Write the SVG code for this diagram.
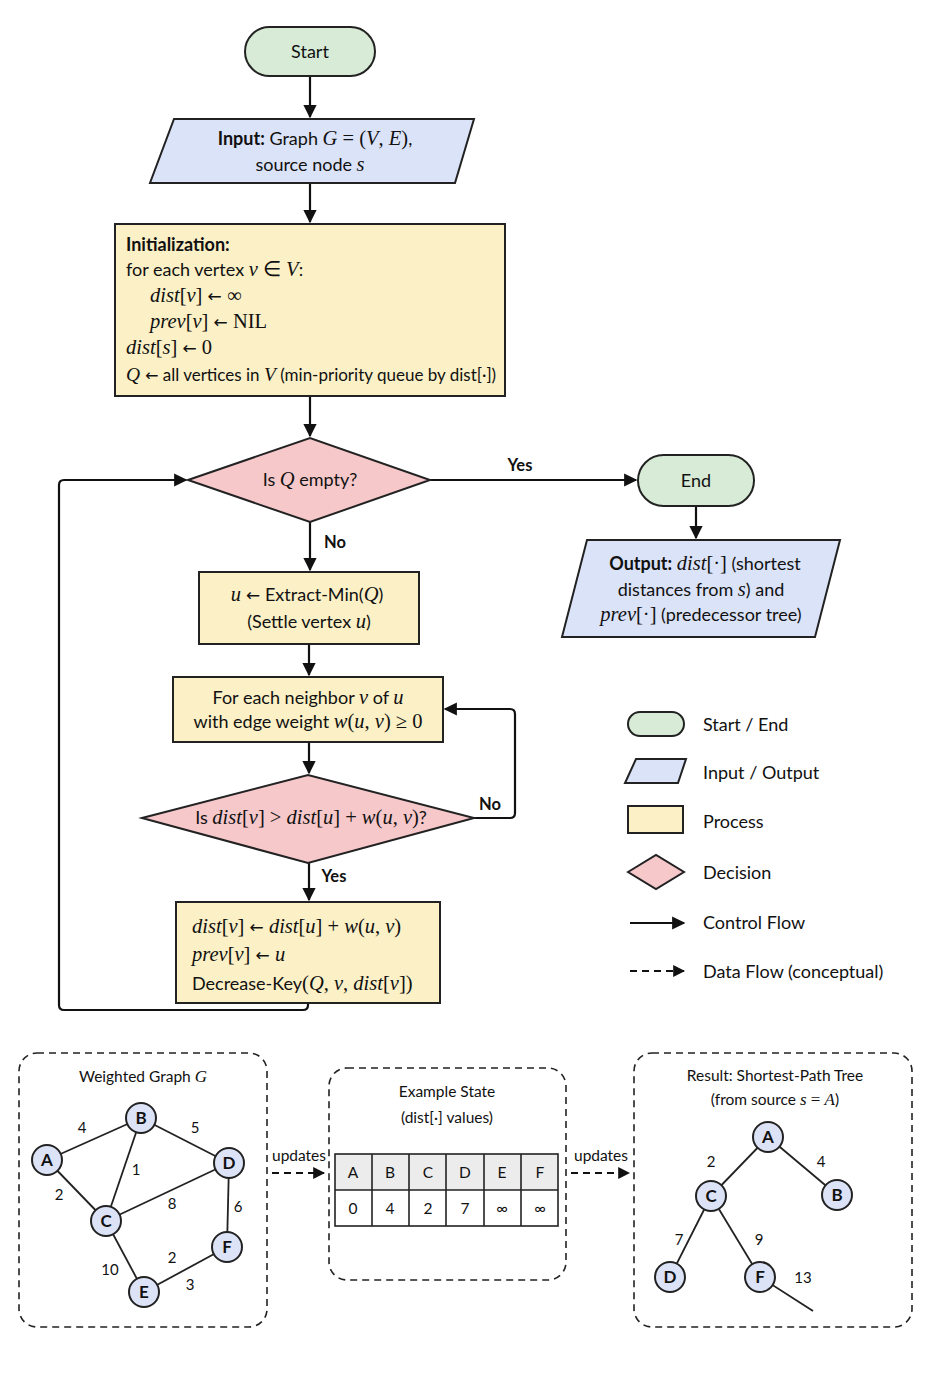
<svg xmlns="http://www.w3.org/2000/svg" width="933" height="1400" viewBox="0 0 933 1400">
<defs>
<style>
.t{font-family:Lato,"Open Sans","Liberation Sans",sans-serif;font-size:18px;fill:#111}
.s{font-family:Lato,"Open Sans","Liberation Sans",sans-serif;font-size:15.5px;fill:#111}
.b{font-weight:bold}
.m{font-family:"Liberation Serif",serif;font-style:italic;font-size:20.5px}
.r{font-family:"Liberation Serif",serif;font-size:20.5px}
.a{font-family:"DejaVu Sans",sans-serif;font-size:17px}
.sm{font-size:17px}
.sm .m{font-size:19.5px}
.sm .r{font-size:19.5px}
.sm .a{font-size:16px}
.lbl{font-family:Lato,"Open Sans","Liberation Sans",sans-serif;font-size:16.5px;font-weight:bold;fill:#111}
.term{fill:#d7ebd6;stroke:#222;stroke-width:2}
.io{fill:#dbe3f8;stroke:#222;stroke-width:2}
.proc{fill:#fbf0c6;stroke:#222;stroke-width:2}
.dec{fill:#f6c8ca;stroke:#222;stroke-width:2}
.edge{fill:none;stroke:#111;stroke-width:2.2}
.dash{fill:none;stroke:#111;stroke-width:2;stroke-dasharray:7 5}
.panel{fill:none;stroke:#222;stroke-width:1.6;stroke-dasharray:7 5}
.gl{stroke:#222;stroke-width:1.8}
.gn{fill:#dde3f6;stroke:#222;stroke-width:2}
.gt{font-family:Lato,"Open Sans","Liberation Sans",sans-serif;font-size:17px;font-weight:bold;fill:#111}
.w{font-family:Lato,"Open Sans","Liberation Sans",sans-serif;font-size:15px;fill:#111}
.s .m,.s .r{font-size:17px}
</style>
<marker id="ah" viewBox="0 0 10 10" refX="9" refY="5" markerWidth="6" markerHeight="6" orient="auto"><path d="M0,0 L10,5 L0,10 z" fill="#111"/></marker>
</defs>
<rect width="933" height="1400" fill="#fff"/>

<g id="connectors">
<line class="edge" x1="310" y1="76" x2="310" y2="117" marker-end="url(#ah)"/>
<line class="edge" x1="310" y1="183" x2="310" y2="222" marker-end="url(#ah)"/>
<line class="edge" x1="310" y1="396" x2="310" y2="436" marker-end="url(#ah)"/>
<line class="edge" x1="430" y1="480" x2="636" y2="480" marker-end="url(#ah)"/>
<line class="edge" x1="696" y1="506" x2="696" y2="538" marker-end="url(#ah)"/>
<line class="edge" x1="310" y1="522" x2="310" y2="570" marker-end="url(#ah)"/>
<line class="edge" x1="309" y1="644" x2="309" y2="675" marker-end="url(#ah)"/>
<line class="edge" x1="309" y1="742" x2="309" y2="773" marker-end="url(#ah)"/>
<path class="edge" d="M474,818 H510 Q515,818 515,813 V714 Q515,709 510,709 H445" marker-end="url(#ah)"/>
<line class="edge" x1="309" y1="863" x2="309" y2="900" marker-end="url(#ah)"/>
<path class="edge" d="M308,1003 V1005 Q308,1010 303,1010 H64 Q59,1010 59,1005 V485 Q59,480 64,480 H186" marker-end="url(#ah)"/>
<text class="lbl" x="520" y="471" text-anchor="middle">Yes</text>
<text class="lbl" x="335" y="548" text-anchor="middle">No</text>
<text class="lbl" x="490" y="810" text-anchor="middle">No</text>
<text class="lbl" x="334" y="882" text-anchor="middle">Yes</text>
<line class="dash" x1="272" y1="1173" x2="324" y2="1173" marker-end="url(#ah)"/>
<text class="s" x="299" y="1161" text-anchor="middle">updates</text>
<line class="dash" x1="571" y1="1173" x2="629" y2="1173" marker-end="url(#ah)"/>
<text class="s" x="601" y="1161" text-anchor="middle">updates</text>
</g>

<g id="start">
<rect class="term" x="245" y="27" width="130" height="49" rx="24.5"/>
<text class="t" x="310" y="58" text-anchor="middle">Start</text>
</g>

<g id="input">
<polygon class="io" points="174,119 474,119 455,183 150,183"/>
<text class="t" x="315" y="145" text-anchor="middle"><tspan class="b">Input:</tspan> Graph <tspan class="m">G</tspan><tspan class="r"> = (</tspan><tspan class="m">V</tspan><tspan class="r">, </tspan><tspan class="m">E</tspan><tspan class="r">)</tspan>,</text>
<text class="t" x="310" y="171" text-anchor="middle">source node <tspan class="m">s</tspan></text>
</g>

<g id="init">
<rect class="proc" x="115" y="224" width="390" height="172"/>
<text class="t b" x="126" y="251">Initialization:</text>
<text class="t" x="126" y="276">for each vertex <tspan class="m">v</tspan><tspan class="r"> ∈ </tspan><tspan class="m">V</tspan>:</text>
<text class="t" x="150" y="302"><tspan class="m">dist</tspan><tspan class="r">[</tspan><tspan class="m">v</tspan><tspan class="r">] </tspan><tspan class="a">←</tspan><tspan class="r"> ∞</tspan></text>
<text class="t" x="150" y="328"><tspan class="m">prev</tspan><tspan class="r">[</tspan><tspan class="m">v</tspan><tspan class="r">] </tspan><tspan class="a">←</tspan><tspan class="r"> NIL</tspan></text>
<text class="t" x="126" y="354"><tspan class="m">dist</tspan><tspan class="r">[</tspan><tspan class="m">s</tspan><tspan class="r">] </tspan><tspan class="a">←</tspan><tspan class="r"> 0</tspan></text>
<text class="t sm" x="126" y="381"><tspan class="m">Q</tspan><tspan class="r"> </tspan><tspan class="a">←</tspan> all vertices in <tspan class="m">V</tspan> (min-priority queue by dist[·])</text>
</g>

<g id="dec-empty">
<polygon class="dec" points="188,480 310,438 430,480 310,522"/>
<text class="t" x="310" y="486" text-anchor="middle">Is <tspan class="m">Q</tspan> empty?</text>
</g>

<g id="end">
<rect class="term" x="638" y="455" width="116" height="51" rx="25.5"/>
<text class="t" x="696" y="487" text-anchor="middle">End</text>
</g>

<g id="output">
<polygon class="io" points="587,540 840,540 815,637 562,637"/>
<text class="t" x="705" y="570" text-anchor="middle"><tspan class="b">Output:</tspan> <tspan class="m">dist</tspan><tspan class="r">[·]</tspan> (shortest</text>
<text class="t" x="701" y="596" text-anchor="middle">distances from <tspan class="m">s</tspan>) and</text>
<text class="t" x="701" y="621" text-anchor="middle"><tspan class="m">prev</tspan><tspan class="r">[·]</tspan> (predecessor tree)</text>
</g>

<g id="extract">
<rect class="proc" x="199" y="572" width="220" height="72"/>
<text class="t" x="307" y="601" text-anchor="middle"><tspan class="m">u</tspan><tspan class="r"> </tspan><tspan class="a">←</tspan> Extract-Min(<tspan class="m">Q</tspan>)</text>
<text class="t" x="309" y="628" text-anchor="middle">(Settle vertex <tspan class="m">u</tspan>)</text>
</g>

<g id="foreach">
<rect class="proc" x="173" y="677" width="270" height="65"/>
<text class="t" x="308" y="704" text-anchor="middle">For each neighbor <tspan class="m">v</tspan> of <tspan class="m">u</tspan></text>
<text class="t" x="308" y="728" text-anchor="middle">with edge weight <tspan class="m">w</tspan><tspan class="r">(</tspan><tspan class="m">u</tspan><tspan class="r">, </tspan><tspan class="m">v</tspan><tspan class="r">) ≥ 0</tspan></text>
</g>

<g id="dec-relax">
<polygon class="dec" points="142,818 308,775 474,818 308,863"/>
<text class="t" x="311" y="824" text-anchor="middle">Is <tspan class="m">dist</tspan><tspan class="r">[</tspan><tspan class="m">v</tspan><tspan class="r">] &gt; </tspan><tspan class="m">dist</tspan><tspan class="r">[</tspan><tspan class="m">u</tspan><tspan class="r">] + </tspan><tspan class="m">w</tspan><tspan class="r">(</tspan><tspan class="m">u</tspan><tspan class="r">, </tspan><tspan class="m">v</tspan><tspan class="r">)</tspan>?</text>
</g>

<g id="update">
<rect class="proc" x="176" y="902" width="264" height="101"/>
<text class="t" x="192" y="933"><tspan class="m">dist</tspan><tspan class="r">[</tspan><tspan class="m">v</tspan><tspan class="r">] </tspan><tspan class="a">←</tspan><tspan class="r"> </tspan><tspan class="m">dist</tspan><tspan class="r">[</tspan><tspan class="m">u</tspan><tspan class="r">] + </tspan><tspan class="m">w</tspan><tspan class="r">(</tspan><tspan class="m">u</tspan><tspan class="r">, </tspan><tspan class="m">v</tspan><tspan class="r">)</tspan></text>
<text class="t" x="192" y="961"><tspan class="m">prev</tspan><tspan class="r">[</tspan><tspan class="m">v</tspan><tspan class="r">] </tspan><tspan class="a">←</tspan><tspan class="r"> </tspan><tspan class="m">u</tspan></text>
<text class="t" x="192" y="990">Decrease-Key<tspan class="r">(</tspan><tspan class="m">Q</tspan><tspan class="r">, </tspan><tspan class="m">v</tspan><tspan class="r">, </tspan><tspan class="m">dist</tspan><tspan class="r">[</tspan><tspan class="m">v</tspan><tspan class="r">])</tspan></text>
</g>

<g id="legend">
<rect class="term" x="628" y="712" width="56" height="24" rx="12"/>
<text class="t" x="703" y="731">Start / End</text>
<polygon class="io" points="636,759 686,759 678,783 625,783"/>
<text class="t" x="703" y="779">Input / Output</text>
<rect class="proc" x="628" y="806" width="55" height="27"/>
<text class="t" x="703" y="828">Process</text>
<polygon class="dec" points="628,872 656,855 684,872 656,889"/>
<text class="t" x="703" y="879">Decision</text>
<line class="edge" x1="630" y1="923" x2="684" y2="923" marker-end="url(#ah)"/>
<text class="t" x="703" y="929">Control Flow</text>
<line class="dash" x1="630" y1="971" x2="684" y2="971" marker-end="url(#ah)"/>
<text class="t" x="703" y="978">Data Flow (conceptual)</text>
</g>

<g id="panel-graph">
<rect class="panel" x="19" y="1053" width="248" height="274" rx="18"/>
<text class="s" x="143" y="1082" text-anchor="middle">Weighted Graph <tspan class="m">G</tspan></text>
<line class="gl" x1="47" y1="1160" x2="141" y2="1118"/>
<line class="gl" x1="141" y1="1118" x2="229" y2="1163"/>
<line class="gl" x1="141" y1="1118" x2="106" y2="1221"/>
<line class="gl" x1="47" y1="1160" x2="106" y2="1221"/>
<line class="gl" x1="106" y1="1221" x2="229" y2="1163"/>
<line class="gl" x1="229" y1="1163" x2="227" y2="1247"/>
<line class="gl" x1="106" y1="1221" x2="144" y2="1292"/>
<line class="gl" x1="144" y1="1292" x2="227" y2="1247"/>
<circle class="gn" cx="47" cy="1160" r="15"/><text class="gt" x="47" y="1166" text-anchor="middle">A</text>
<circle class="gn" cx="141" cy="1118" r="15"/><text class="gt" x="141" y="1124" text-anchor="middle">B</text>
<circle class="gn" cx="229" cy="1163" r="15"/><text class="gt" x="229" y="1169" text-anchor="middle">D</text>
<circle class="gn" cx="106" cy="1221" r="15"/><text class="gt" x="106" y="1227" text-anchor="middle">C</text>
<circle class="gn" cx="227" cy="1247" r="15"/><text class="gt" x="227" y="1253" text-anchor="middle">F</text>
<circle class="gn" cx="144" cy="1292" r="15"/><text class="gt" x="144" y="1298" text-anchor="middle">E</text>
<text class="w" x="82" y="1133" text-anchor="middle">4</text>
<text class="w" x="195" y="1133" text-anchor="middle">5</text>
<text class="w" x="136" y="1175" text-anchor="middle">1</text>
<text class="w" x="59" y="1200" text-anchor="middle">2</text>
<text class="w" x="172" y="1209" text-anchor="middle">8</text>
<text class="w" x="238" y="1212" text-anchor="middle">6</text>
<text class="w" x="110" y="1275" text-anchor="middle">10</text>
<text class="w" x="172" y="1263" text-anchor="middle">2</text>
<text class="w" x="190" y="1290" text-anchor="middle">3</text>
</g>

<g id="panel-state">
<rect class="panel" x="329" y="1068" width="237" height="212" rx="18"/>
<text class="s" x="447" y="1097" text-anchor="middle">Example State</text>
<text class="s" x="447" y="1123" text-anchor="middle">(dist[·] values)</text>
<rect x="335" y="1154" width="223" height="36" fill="#ececec"/>
<rect x="335" y="1190" width="223" height="36" fill="#fff"/>
<g fill="none" stroke="#222" stroke-width="1.6">
<rect x="335" y="1154" width="223" height="72"/>
<line x1="335" y1="1190" x2="558" y2="1190"/>
<line x1="372" y1="1154" x2="372" y2="1226"/>
<line x1="409" y1="1154" x2="409" y2="1226"/>
<line x1="446" y1="1154" x2="446" y2="1226"/>
<line x1="484" y1="1154" x2="484" y2="1226"/>
<line x1="521" y1="1154" x2="521" y2="1226"/>
</g>
<g class="s" text-anchor="middle">
<text x="353" y="1178">A</text><text x="390" y="1178">B</text><text x="428" y="1178">C</text><text x="465" y="1178">D</text><text x="502" y="1178">E</text><text x="540" y="1178">F</text>
<text x="353" y="1214">0</text><text x="390" y="1214">4</text><text x="428" y="1214">2</text><text x="465" y="1214">7</text><text x="502" y="1214">∞</text><text x="540" y="1214">∞</text>
</g>
</g>

<g id="panel-tree">
<rect class="panel" x="634" y="1053" width="278" height="274" rx="18"/>
<text class="s" x="775" y="1081" text-anchor="middle">Result: Shortest-Path Tree</text>
<text class="s" x="775" y="1105" text-anchor="middle">(from source <tspan class="m">s</tspan><tspan class="r"> = </tspan><tspan class="m">A</tspan>)</text>
<line class="gl" x1="768" y1="1137" x2="711" y2="1196"/>
<line class="gl" x1="768" y1="1137" x2="837" y2="1195"/>
<line class="gl" x1="711" y1="1196" x2="670" y2="1277"/>
<line class="gl" x1="711" y1="1196" x2="760" y2="1277"/>
<line class="gl" x1="760" y1="1277" x2="813" y2="1311"/>
<circle class="gn" cx="768" cy="1137" r="15"/><text class="gt" x="768" y="1143" text-anchor="middle">A</text>
<circle class="gn" cx="711" cy="1196" r="15"/><text class="gt" x="711" y="1202" text-anchor="middle">C</text>
<circle class="gn" cx="837" cy="1195" r="15"/><text class="gt" x="837" y="1201" text-anchor="middle">B</text>
<circle class="gn" cx="670" cy="1277" r="15"/><text class="gt" x="670" y="1283" text-anchor="middle">D</text>
<circle class="gn" cx="760" cy="1277" r="15"/><text class="gt" x="760" y="1283" text-anchor="middle">F</text>
<text class="w" x="711" y="1167" text-anchor="middle">2</text>
<text class="w" x="821" y="1167" text-anchor="middle">4</text>
<text class="w" x="679" y="1245" text-anchor="middle">7</text>
<text class="w" x="759" y="1245" text-anchor="middle">9</text>
<text class="w" x="803" y="1283" text-anchor="middle">13</text>
</g>
</svg>
